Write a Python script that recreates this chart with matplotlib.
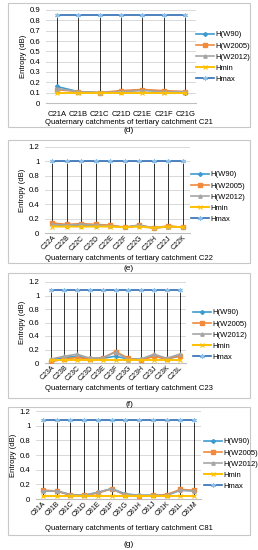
import numpy as np
import matplotlib
matplotlib.use('Agg')
import matplotlib.pyplot as plt
from matplotlib.patches import Rectangle

plt.rcParams['font.family'] = ['Liberation Sans', 'DejaVu Sans']

# panel (d) C21
cat_d = ['C21A', 'C21B', 'C21C', 'C21D', 'C21E', 'C21F', 'C21G']
w90_d = [0.16, 0.11, 0.10, 0.11, 0.13, 0.11, 0.10]
w05_d = [0.13, 0.11, 0.10, 0.12, 0.13, 0.12, 0.11]
w12_d = [0.14, 0.11, 0.10, 0.11, 0.12, 0.11, 0.11]
hmin_d = [0.10, 0.10, 0.10, 0.10, 0.10, 0.10, 0.10]
hmax_d = [0.85] * 7

# panel (e) C22
cat_e = ['C22A', 'C22B', 'C22C', 'C22D', 'C22E', 'C22F', 'C22G', 'C22H', 'C22J', 'C22K']
w90_e = [0.12, 0.10, 0.10, 0.10, 0.10, 0.08, 0.10, 0.07, 0.09, 0.08]
w05_e = [0.14, 0.12, 0.13, 0.12, 0.11, 0.08, 0.11, 0.07, 0.10, 0.08]
w12_e = [0.12, 0.11, 0.12, 0.11, 0.10, 0.08, 0.11, 0.07, 0.09, 0.08]
hmin_e = [0.09, 0.09, 0.09, 0.09, 0.09, 0.08, 0.09, 0.07, 0.09, 0.08]
hmax_e = [1.0] * 10

# panel (f) C23
cat_f = ['C23A', 'C23B', 'C23C', 'C23D', 'C23E', 'C23F', 'C23G', 'C23H', 'C23J', 'C23K', 'C23L']
w90_f = [0.05, 0.08, 0.10, 0.07, 0.07, 0.10, 0.06, 0.06, 0.10, 0.06, 0.10]
w05_f = [0.02, 0.06, 0.08, 0.06, 0.07, 0.17, 0.07, 0.04, 0.10, 0.06, 0.11]
w12_f = [0.06, 0.10, 0.13, 0.07, 0.08, 0.16, 0.05, 0.06, 0.13, 0.07, 0.13]
hmin_f = [0.05] * 11
hmax_f = [1.08] * 11

# panel (g) C81
cat_g = ['C81A', 'C81B', 'C81C', 'C81D', 'C81E', 'C81F', 'C81G', 'C81H', 'C81J', 'C81K', 'C81L', 'C81M']
w90_g = [0.11, 0.11, 0.06, 0.05, 0.09, 0.14, 0.07, 0.05, 0.05, 0.05, 0.12, 0.11]
w05_g = [0.12, 0.11, 0.05, 0.05, 0.08, 0.14, 0.05, 0.04, 0.05, 0.06, 0.13, 0.12]
w12_g = [0.11, 0.11, 0.06, 0.05, 0.09, 0.14, 0.06, 0.05, 0.05, 0.05, 0.12, 0.11]
hmin_g = [0.04] * 12
hmax_g = [1.08] * 12

labels = ['H(W90)', 'H(W2005)', 'H(W2012)', 'Hmin', 'Hmax']

W, H = 258, 550
fig = plt.figure(figsize=(W / 100, H / 100), dpi=100)


def px_axes(l, t, r, b):
    return fig.add_axes([l / W, 1 - b / H, (r - l) / W, (b - t) / H])


def panel(box, area, cats, w90, w05, w12, hmin, hmax, ymax, ystep, rot,
          xlab, cap, cap_y, leg_x, leg_y):
    # outer frame of the excel chart
    bl, bt, br, bb = box
    fig.patches.append(Rectangle((bl / W, 1 - bb / H), (br - bl) / W, (bb - bt) / H,
                                 transform=fig.transFigure, fill=False,
                                 edgecolor='#c8c8c8', lw=0.8))
    ax = px_axes(*area)
    x = np.arange(len(cats))
    allv = np.array([w90, w05, w12, hmin, hmax])
    ax.vlines(x, allv.min(axis=0), allv.max(axis=0), color='#111111', lw=0.6, zorder=2)
    l1, = ax.plot(x, w90, color='#3d9bd0', marker='D', ms=2, lw=1.2, zorder=3)
    l2, = ax.plot(x, w05, color='#f08a3c', marker='s', ms=2.8, lw=1.2, zorder=3)
    l3, = ax.plot(x, w12, color='#a5a5a5', marker='^', ms=2.4, lw=1.2, zorder=3)
    l4, = ax.plot(x, hmin, color='#ffc000', marker='x', ms=3, mew=0.8, lw=1.4, zorder=3)
    l5, = ax.plot(x, hmax, color='#2f6db5', marker=(6, 2, 0), ms=3.5, mew=0.8,
                  mec='#8fc1e8', lw=1.2, zorder=3)
    ax.set_xlim(-0.5, len(cats) - 0.5)
    ax.set_ylim(0, ymax)
    yt = np.arange(0, ymax + 1e-9, ystep)
    ax.set_yticks(yt)
    ax.set_yticklabels(['%g' % round(v, 1) for v in yt], fontsize=5.6)
    ax.set_xticks(x)
    if rot:
        ax.set_xticklabels(cats, fontsize=5, rotation=45, ha='right', rotation_mode='anchor')
        ax.tick_params(axis='x', pad=1)
    else:
        ax.set_xticklabels(cats, fontsize=5.5)
        ax.tick_params(axis='x', pad=6)
    ax.tick_params(length=0)
    ax.tick_params(axis='y', pad=4)
    ax.grid(axis='y', color='#d9d9d9', lw=0.7)
    ax.set_axisbelow(True)
    for s in ['top', 'right', 'left']:
        ax.spines[s].set_visible(False)
    ax.spines['bottom'].set_color('#bfbfbf')
    ax.spines['bottom'].set_linewidth(0.8)
    ax.set_ylabel('Entropy (dB)', fontsize=5.5, labelpad=2)
    fig.text((bl + br) / 2 / W, 1 - xlab / H, 'Quaternary catchments of tertiary catchment ' + cats[0][:3],
             fontsize=5.5, ha='center', va='center')
    fig.text((bl + br) / 2 / W, 1 - cap_y / H, cap, fontsize=6, ha='center', va='center')
    fig.legend([l1, l2, l3, l4, l5], labels, loc='upper left',
               bbox_to_anchor=(leg_x / W, 1 - leg_y / H), frameon=False,
               fontsize=5.5, handlelength=2.3, handletextpad=0.2,
               labelspacing=0.5, borderpad=0, borderaxespad=0)
    return ax


panel((8, 3, 250, 127), (46, 10, 196, 103), cat_d, w90_d, w05_d, w12_d, hmin_d, hmax_d,
      0.9, 0.1, False, 123, '(d)', 131, 196, 31)
panel((8, 140, 250, 263), (45, 147, 190, 233), cat_e, w90_e, w05_e, w12_e, hmin_e, hmax_e,
      1.2, 0.2, True, 258, '(e)', 268, 191, 171)
panel((8, 273, 250, 398), (45, 282, 186, 363), cat_f, w90_f, w05_f, w12_f, hmin_f, hmax_f,
      1.2, 0.2, True, 388, '(f)', 404, 193, 309)
panel((8, 407, 250, 535), (36, 411, 201, 499), cat_g, w90_g, w05_g, w12_g, hmin_g, hmax_g,
      1.2, 0.2, True, 528, '(g)', 545, 204, 438)

fig.savefig('out.png', dpi=100)
